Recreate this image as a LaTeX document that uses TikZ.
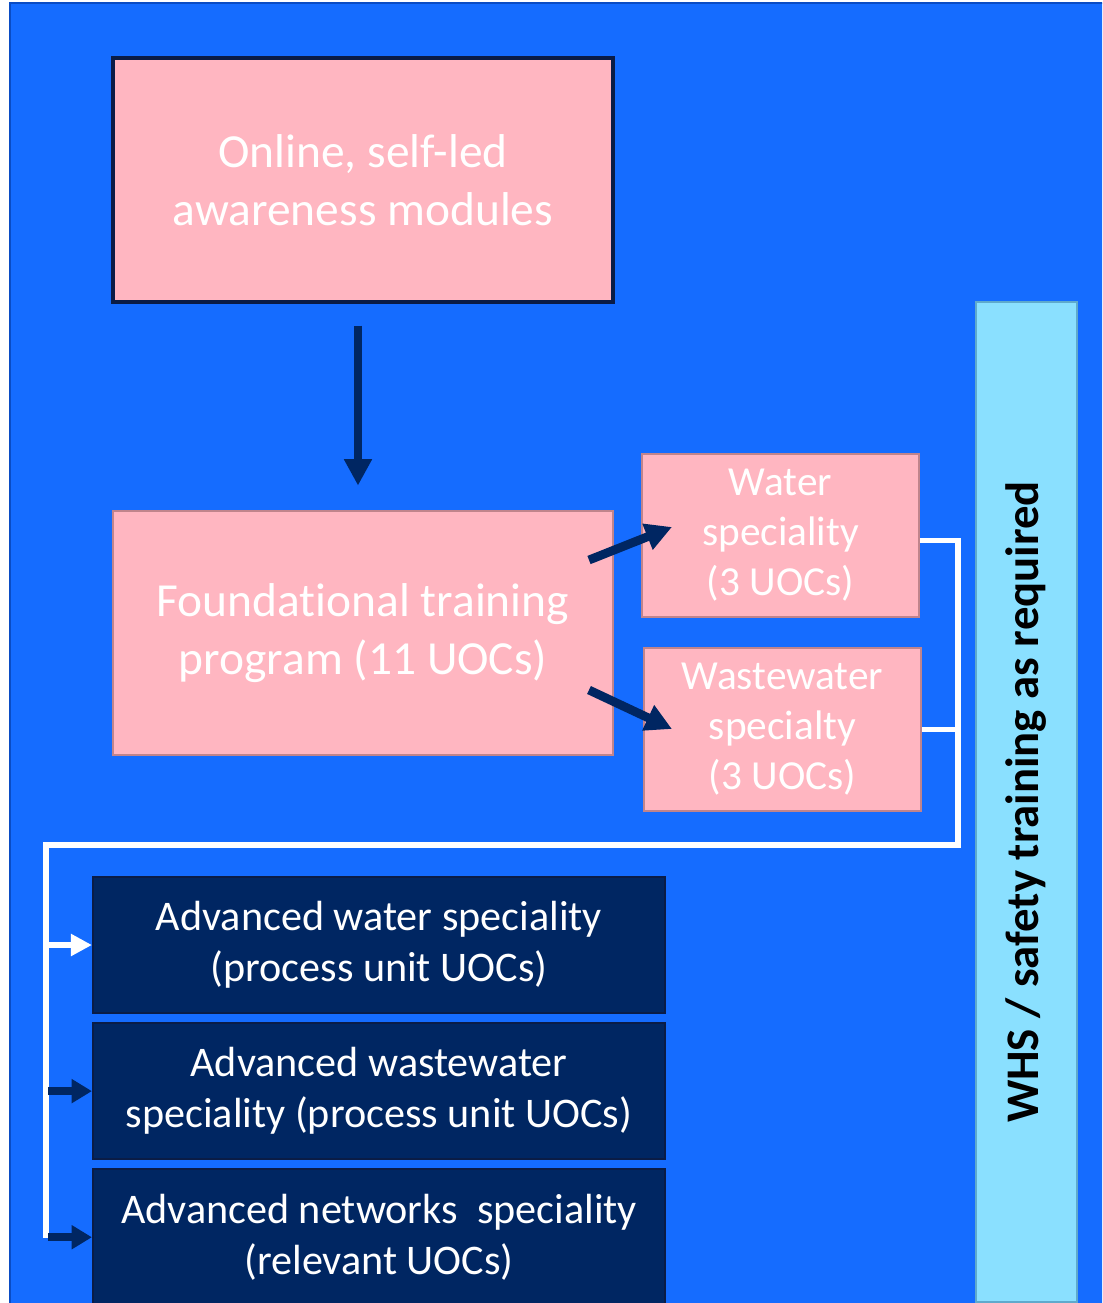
\documentclass[tikz,border=0pt]{standalone}
\usepackage{fontspec}
\setmainfont{Carlito}[Ligatures=NoCommon]
\usetikzlibrary{arrows.meta,positioning,calc}

\definecolor{back-blue}{RGB}{21,108,255}
\definecolor{back-edge}{RGB}{10,76,196}
\definecolor{box-pink}{RGB}{255,182,193}
\definecolor{pink-edge}{RGB}{192,132,140}
\definecolor{navy}{RGB}{0,38,98}
\definecolor{navy-edge}{RGB}{10,28,70}
\definecolor{whs-blue}{RGB}{138,224,255}
\definecolor{whs-edge}{RGB}{95,170,204}

\tikzset{
  pinkbox/.style={rectangle, fill=box-pink, draw=pink-edge, line width=1.2pt,
    text=white, align=center, inner sep=0pt},
  navybox/.style={rectangle, fill=navy, draw=navy-edge, line width=1.2pt,
    text=white, align=center, inner sep=0pt,
    minimum width=11.44cm, minimum height=2.72cm,
    font=\fontsize{24}{29}\selectfont},
  flow/.style={draw=navy, line width=5pt, -{Triangle[width=15pt,length=15pt]}},
  feed/.style={draw=navy, line width=4.5pt, -{Triangle[width=13pt,length=11.5pt]}},
  wire/.style={draw=white, line width=3.4pt, line join=miter},
}

\begin{document}
\begin{tikzpicture}
        \clip (0,0) rectangle (22.04,-26.06);
        \fill[back-blue] (0.2,-0.06) rectangle (22.3,-26.3);
        \draw[back-edge, line width=1.6pt] (0.2,-26.3) -- (0.2,-0.06) -- (22.3,-0.06);

        \node[pinkbox, draw=navy-edge, line width=1.8pt, minimum width=10cm, minimum height=4.88cm,
          font=\fontsize{27}{33}\selectfont] (online) at (7.26,-3.6) {Online, self-led\\awareness modules};
        \node[pinkbox, below = 4.12cm of online, minimum width=10cm, minimum height=4.88cm,
          font=\fontsize{27}{33}\selectfont] (foundation) {Foundat\kern0pt ional training\\program (11 UOCs)};

        \node[pinkbox, minimum width=5.54cm, minimum height=3.26cm,
          font=\fontsize{23.5}{28.5}\selectfont] (water) at (15.61,-10.71) {Water\\speciality\\(3 UOCs)};
        \node[pinkbox, minimum width=5.54cm, minimum height=3.26cm,
          font=\fontsize{23.5}{28.5}\selectfont] (wastewater) at (15.65,-14.59) {Wastewater\\specialty\\(3 UOCs)};

        \node[navybox] (adv-water) at (7.58,-18.9) {Advanced water speciality\\(process unit UOCs)};
        \node[navybox, below = 0.16cm of adv-water] (adv-wastewater) {Advanced wastewater\\speciality (process unit UOCs)};
        \node[navybox, below = 0.16cm of adv-wastewater] (adv-networks) {Advanced networks\ \ speciality\\(relevant UOCs)};

        \node[rectangle, fill=whs-blue, draw=whs-edge, line width=1.2pt, rotate=90,
          minimum width=20cm, minimum height=2.02cm, inner sep=0pt,
          font=\bfseries\fontsize{26.6}{30}\selectfont] (whs) at (20.53,-16.04) {WHS / safety training as required};

        % arrows out of the foundation box
        \draw[flow, shorten <=0.44cm, shorten >=0.48cm] ([xshift=-0.1cm]online.south) -- ([xshift=-0.1cm]foundation.north);
        \coordinate (water-from) at (11.78,-11.2);
        \coordinate (water-to) at (13.44,-10.54);
        \coordinate (wastewater-from) at (11.78,-13.8);
        \coordinate (wastewater-to) at (13.44,-14.58);
        \draw[flow] (water-from) -- (water-to);
        \draw[flow] (wastewater-from) -- (wastewater-to);

        % white bus to the advanced boxes
        \coordinate (bus-corner) at (19.16,-16.9);
        \coordinate (bus-left) at (0.92,-16.9);
        \coordinate (bus-end) at (0.92,-24.76);
        \draw[wire] ([yshift=-0.1cm]water.east) -| (bus-corner) -- (bus-left) -- (bus-end);
        \draw[wire] (wastewater.east) -- (wastewater.east -| bus-corner);

        \draw[wire, -{Triangle[width=12pt,length=12pt]}] (bus-left |- adv-water.west) -- (adv-water.west);
        \draw[feed] ([xshift=0.04cm]bus-left |- adv-wastewater.west) -- (adv-wastewater.west);
        \draw[feed] ([xshift=0.04cm]bus-left |- adv-networks.west) -- (adv-networks.west);
      \end{tikzpicture}
\end{document}
